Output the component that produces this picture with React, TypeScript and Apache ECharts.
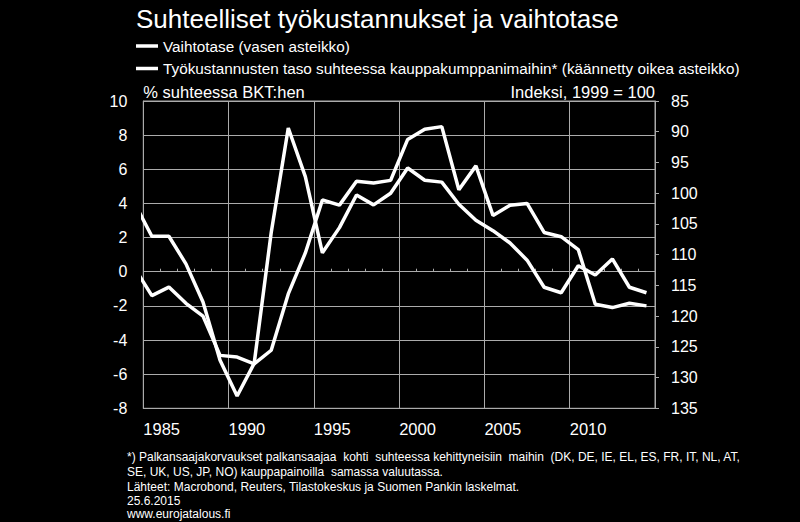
import React, { useEffect, useRef } from "react";
import * as echarts from "echarts";

// ---- Data ----
const years = [
  1984, 1985, 1986, 1987, 1988, 1989, 1990, 1991, 1992, 1993, 1994, 1995, 1996, 1997, 1998, 1999,
  2000, 2001, 2002, 2003, 2004, 2005, 2006, 2007, 2008, 2009, 2010, 2011, 2012, 2013, 2014,
];
// Vaihtotase, % suhteessa BKT:hen (vasen asteikko)
const currentAccount = [
  0.2, -1.4, -0.9, -1.85, -2.6, -4.9, -5.0, -5.4, -4.6, -1.3, 1.1, 4.2, 3.9, 5.3, 5.2, 5.35,
  7.75, 8.35, 8.5, 4.8, 6.2, 3.3, 3.9, 4.0, 2.3, 2.05, 1.3, -1.9, -2.1, -1.85, -2.0,
];
// Työkustannusten taso, indeksi 1999 = 100 (käännetty oikea asteikko)
const laborCostIndex = [
  101.7, 107.0, 107.0, 111.5, 117.7, 127.2, 133.0, 127.7, 106.4, 89.4, 97.3, 109.7, 105.6, 100.3, 101.9, 100.0,
  95.9, 97.9, 98.2, 101.8, 104.4, 106.1, 108.1, 110.9, 115.3, 116.2, 111.8, 113.3, 110.7, 115.3, 116.2,
];

const titleText = "Suhteelliset työkustannukset ja vaihtotase";
const seriesNames = [
  "Vaihtotase (vasen asteikko)",
  "Työkustannusten taso suhteessa kauppakumppanimaihin* (käännetty oikea asteikko)",
];
const leftAxisName = "% suhteessa BKT:hen";
const rightAxisName = "Indeksi, 1999 = 100";
const xRange = [1985, 2015];
const leftRange = [-8, 10];
const rightRange = [85, 135];
const footnotes = [
  "*) Palkansaajakorvaukset palkansaajaa  kohti  suhteessa kehittyneisiin  maihin  (DK, DE, IE, EL, ES, FR, IT, NL, AT,",
  "SE, UK, US, JP, NO) kauppapainoilla  samassa valuutassa.",
  "Lähteet: Macrobond, Reuters, Tilastokeskus ja Suomen Pankin laskelmat.",
  "25.6.2015",
];
const sourceUrl = "www.eurojatalous.fi";

const FONT = "'Liberation Sans', Arial, Helvetica, sans-serif";
const GRID_COLOR = "#ababab";
const WHITE = "#ffffff";

export default function App() {
  const ref = useRef<HTMLDivElement | null>(null);

  useEffect(() => {
    if (!ref.current) return;
    const chart = echarts.init(ref.current, undefined, { renderer: "svg" });

    const caData = years.map((y, i) => [y + 0.5, currentAccount[i]]);
    const lcData = years.map((y, i) => [y + 0.5, laborCostIndex[i]]);

    const footY = [457, 472, 487, 501];

    const option: any = {
      animation: false,
      backgroundColor: "#000000",
      textStyle: { fontFamily: FONT },
      title: {
        text: titleText,
        left: 136,
        top: 4,
        padding: 0,
        textStyle: { color: WHITE, fontSize: 26, fontWeight: "normal", fontFamily: FONT, lineHeight: 30 },
      },
      legend: [
        {
          data: [seriesNames[0]],
          left: 136,
          top: 36,
          padding: 0,
          icon: "rect",
          itemWidth: 22,
          itemHeight: 3.5,
          selectedMode: false,
          textStyle: { color: WHITE, fontSize: 15.3, fontFamily: FONT, lineHeight: 20 },
        },
        {
          data: [seriesNames[1]],
          left: 136,
          top: 58.5,
          padding: 0,
          icon: "rect",
          itemWidth: 22,
          itemHeight: 3.5,
          selectedMode: false,
          textStyle: { color: WHITE, fontSize: 15.3, fontFamily: FONT, lineHeight: 20 },
        },
      ],
      grid: {
        left: 143.3,
        top: 101,
        width: 511.7,
        height: 307.3,
        show: true,
        borderColor: GRID_COLOR,
        borderWidth: 1,
        backgroundColor: "transparent",
        containLabel: false,
        outerBoundsMode: "none",
      },
      xAxis: [
        {
          type: "value",
          min: xRange[0],
          max: xRange[1],
          interval: 5,
          position: "bottom",
          axisLine: { show: true, onZero: false, lineStyle: { color: GRID_COLOR, width: 1 } },
          axisTick: { show: false },
          axisLabel: {
            color: WHITE,
            fontSize: 16.5,
            fontFamily: FONT,
            align: "left",
            verticalAlign: "middle",
            margin: 21,
            showMaxLabel: false,
            formatter: (v: number) => String(v),
          },
          splitLine: { show: true, lineStyle: { color: GRID_COLOR, width: 1 } },
        },
        {
          type: "value",
          min: xRange[0],
          max: xRange[1],
          interval: 1,
          position: "bottom",
          axisLine: { show: false, onZero: true, onZeroAxisIndex: 0 },
          axisTick: { show: true, inside: true, length: 3, lineStyle: { color: GRID_COLOR, width: 1 } },
          axisLabel: { show: false },
          splitLine: { show: false },
        },
      ],
      yAxis: [
        {
          type: "value",
          min: leftRange[0],
          max: leftRange[1],
          interval: 2,
          position: "left",
          name: leftAxisName,
          nameLocation: "end",
          nameGap: 9,
          nameTextStyle: { color: WHITE, fontSize: 16.5, fontFamily: FONT, align: "left", verticalAlign: "middle" },
          axisLine: { show: true, onZero: false, lineStyle: { color: GRID_COLOR, width: 1 } },
          axisTick: { show: false },
          axisLabel: { color: WHITE, fontSize: 16, fontFamily: FONT, margin: 16 },
          splitLine: { show: true, lineStyle: { color: GRID_COLOR, width: 1 } },
        },
        {
          type: "value",
          min: rightRange[0],
          max: rightRange[1],
          interval: 5,
          inverse: true,
          position: "right",
          name: rightAxisName,
          nameLocation: "start",
          nameGap: 9,
          nameTextStyle: { color: WHITE, fontSize: 16.5, fontFamily: FONT, align: "right", verticalAlign: "middle" },
          axisLine: { show: true, onZero: false, lineStyle: { color: GRID_COLOR, width: 1 } },
          axisTick: { show: true, inside: false, length: 4, lineStyle: { color: GRID_COLOR, width: 1 } },
          axisLabel: { color: WHITE, fontSize: 16, fontFamily: FONT, margin: 16 },
          splitLine: { show: false },
        },
      ],
      series: [
        {
          name: seriesNames[0],
          type: "line",
          xAxisIndex: 0,
          yAxisIndex: 0,
          data: caData,
          symbol: "none",
          clip: true,
          lineStyle: { color: WHITE, width: 3.5 },
          itemStyle: { color: WHITE },
          z: 3,
        },
        {
          name: seriesNames[1],
          type: "line",
          xAxisIndex: 0,
          yAxisIndex: 1,
          data: lcData,
          symbol: "none",
          clip: true,
          lineStyle: { color: WHITE, width: 3.5 },
          itemStyle: { color: WHITE },
          z: 3,
        },
      ],
      graphic: [
        ...footnotes.map((t, i) => ({
          type: "text",
          x: 127,
          y: footY[i],
          style: { text: t, fill: WHITE, font: `12px ${FONT}`, verticalAlign: "middle", align: "left" },
        })),
        {
          type: "text",
          x: 127,
          y: 514,
          style: { text: sourceUrl, fill: WHITE, font: `12px ${FONT}`, verticalAlign: "middle", align: "left" },
        },
      ],
    };

    chart.setOption(option);
    return () => {
      chart.dispose();
    };
  }, []);

  return (
    <div
      ref={ref}
      style={{ position: "fixed", left: 0, top: 0, width: 800, height: 522, background: "#000" }}
    />
  );
}
